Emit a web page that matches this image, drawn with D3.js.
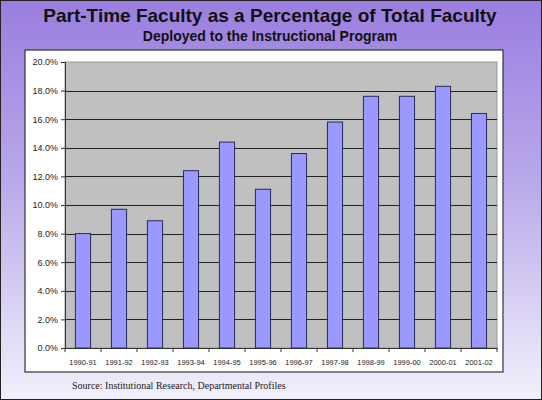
<!DOCTYPE html>
<html>
<head>
<meta charset="utf-8">
<title>Part-Time Faculty</title>
<script src="https://cdn.jsdelivr.net/npm/d3@7"></script>
<style>
	body { margin: 0; }
	svg { display: block; }
</style>
</head>
<body>
<svg id="chart" width="542" height="400"></svg>
<script>
	// data
	const years = ["1990-91", "1991-92", "1992-93", "1993-94", "1994-95", "1995-96",
		"1996-97", "1997-98", "1998-99", "1999-00", "2000-01", "2001-02"];
	const pctPartTime = [8.0, 9.7, 8.9, 12.4, 14.4, 11.1, 13.6, 15.8, 17.6, 17.6, 18.3, 16.4];
	const yTicks = [0, 2, 4, 6, 8, 10, 12, 14, 16, 18, 20];

	const W = 542, H = 400;
	const plot = { left: 65, right: 497, top: 62, bottom: 348 };

	const svg = d3.select("#chart");

	// background gradient
	const grad = svg.append("defs").append("linearGradient")
		.attr("id", "bg").attr("x1", 0).attr("y1", 0).attr("x2", 0).attr("y2", 1);
	grad.append("stop").attr("offset", "0%").attr("stop-color", "#9a7edf");
	grad.append("stop").attr("offset", "45%").attr("stop-color", "#b9a8ea");
	grad.append("stop").attr("offset", "100%").attr("stop-color", "#f2f0fb");

	svg.append("rect").attr("width", W).attr("height", H).attr("fill", "url(#bg)");
	svg.append("rect").attr("x", 0.5).attr("y", 0.5).attr("width", W - 1).attr("height", H - 1)
		.attr("fill", "none").attr("stroke", "#222").attr("stroke-width", 1);

	// titles
	svg.append("text").attr("x", 270).attr("y", 22).attr("text-anchor", "middle")
		.attr("font-family", "Liberation Sans, Arial, sans-serif").attr("font-weight", "bold")
		.attr("font-size", "19px").attr("fill", "#111")
		.text("Part-Time Faculty as a Percentage of Total Faculty");
	svg.append("text").attr("x", 270).attr("y", 41).attr("text-anchor", "middle")
		.attr("font-family", "Liberation Sans, Arial, sans-serif").attr("font-weight", "bold")
		.attr("font-size", "14px").attr("fill", "#111")
		.text("Deployed to the Instructional Program");

	// white chart panel
	svg.append("rect").attr("x", 25).attr("y", 50).attr("width", 478).attr("height", 322)
		.attr("fill", "#fff").attr("stroke", "#333").attr("stroke-width", 1.2);

	// scales
	const x = d3.scaleBand().domain(years).range([plot.left, plot.right]).paddingInner(0).paddingOuter(0);
	const y = d3.scaleLinear().domain([0, 20]).range([plot.bottom, plot.top]);

	// plot area
	svg.append("rect").attr("x", plot.left).attr("y", plot.top)
		.attr("width", plot.right - plot.left).attr("height", plot.bottom - plot.top)
		.attr("fill", "#c0c0c0").attr("stroke", "#999").attr("stroke-width", 1);

	// gridlines
	svg.append("g").selectAll("line")
		.data(yTicks.filter(function(d){ return d > 0 && d < 20; }))
		.enter().append("line")
		.attr("x1", plot.left).attr("x2", plot.right)
		.attr("y1", function(d){ return Math.round(y(d)) + 0.5; })
		.attr("y2", function(d){ return Math.round(y(d)) + 0.5; })
		.attr("stroke", "#222").attr("stroke-width", 1);

	// bars
	const barW = x.bandwidth() * 0.42;
	svg.append("g").selectAll("rect")
		.data(pctPartTime)
		.enter().append("rect")
		.attr("x", function(d, i){ return x(years[i]) + (x.bandwidth() - barW) / 2; })
		.attr("y", function(d){ return y(d); })
		.attr("width", barW)
		.attr("height", function(d){ return y(0) - y(d); })
		.attr("fill", "#9999ff").attr("stroke", "#2a2a5a").attr("stroke-width", 1);

	// y axis
	const yAxis = svg.append("g").attr("transform", "translate(" + plot.left + ",0)")
		.call(d3.axisLeft(y).tickValues(yTicks).tickSize(4).tickPadding(3)
			.tickFormat(function(d){ return d.toFixed(1) + "%"; }));
	yAxis.select(".domain").attr("stroke", "#333");
	yAxis.selectAll(".tick line").attr("stroke", "#333");
	yAxis.selectAll("text").attr("font-family", "Liberation Sans, Arial, sans-serif")
		.attr("font-size", "9px").attr("fill", "#222");

	// x axis
	const xAxis = svg.append("g").attr("transform", "translate(0," + plot.bottom + ")")
		.call(d3.axisBottom(x).tickSize(0).tickPadding(12));
	xAxis.select(".domain").attr("stroke", "#333");
	xAxis.selectAll("text").attr("font-family", "Liberation Sans, Arial, sans-serif")
		.attr("font-size", "7.5px").attr("fill", "#222");
	// category boundary ticks
	svg.append("g").selectAll("line")
		.data(years.concat(["end"]))
		.enter().append("line")
		.attr("x1", function(d, i){ return i < years.length ? x(d) : plot.right; })
		.attr("x2", function(d, i){ return i < years.length ? x(d) : plot.right; })
		.attr("y1", plot.bottom).attr("y2", plot.bottom + 4)
		.attr("stroke", "#333");

	// source note
	svg.append("text").attr("x", 72).attr("y", 389)
		.attr("font-family", "Liberation Serif, Times New Roman, serif")
		.attr("font-size", "10px").attr("fill", "#222")
		.text("Source: Institutional Research, Departmental Profiles");
</script>
</body>
</html>
